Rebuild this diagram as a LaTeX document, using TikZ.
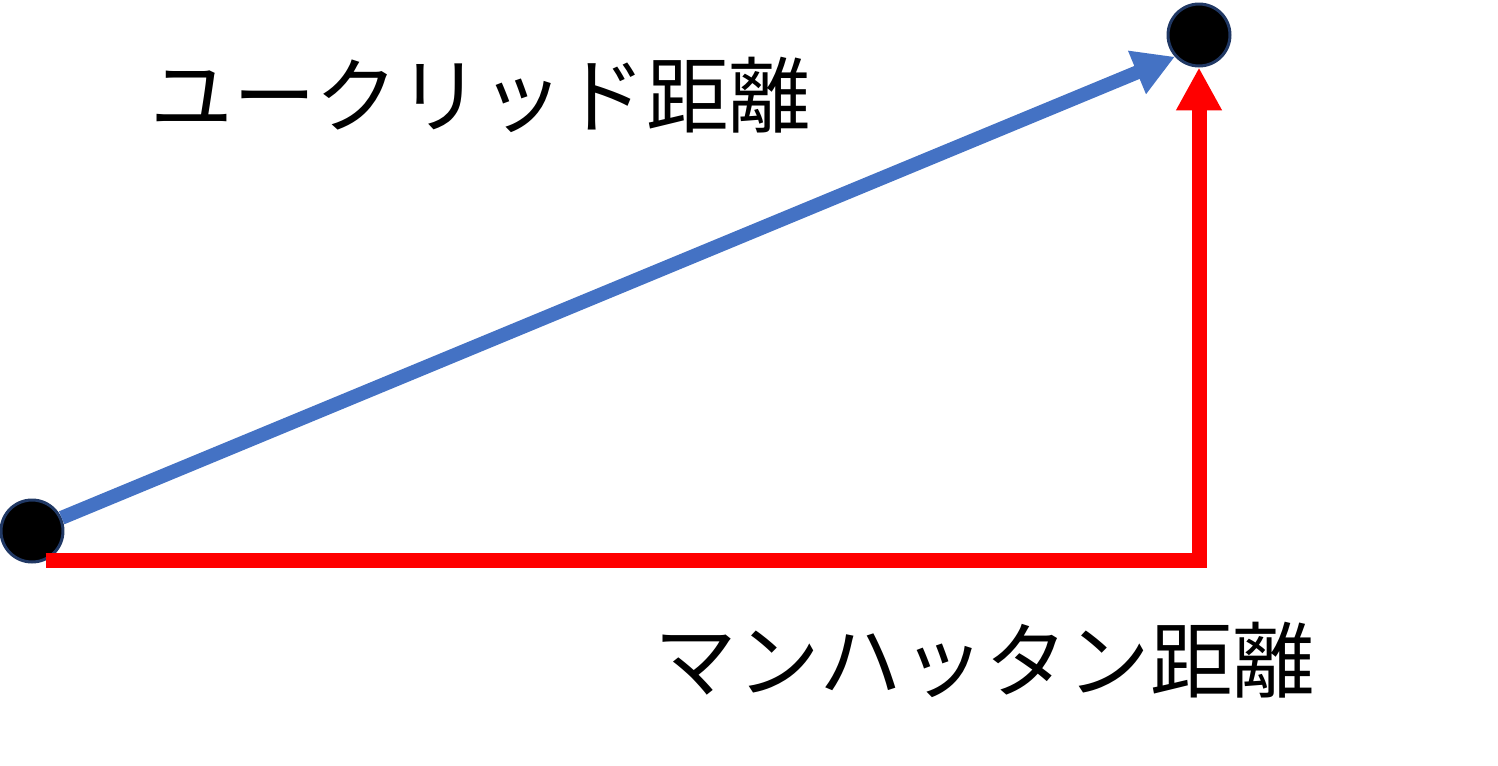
\documentclass[tikz,border=0pt]{standalone}
\usepackage{fontspec}
\newfontfamily\cjk{Noto Sans CJK JP}
\usetikzlibrary{arrows.meta}
\definecolor{dotline}{HTML}{203864}
\definecolor{euclid}{HTML}{4472C4}
\definecolor{manhattan}{HTML}{FF0000}
\tikzset{
  point/.style={circle, fill=black, draw=dotline, line width=0.06cm, minimum size=1.24cm, inner sep=0pt},
  distlabel/.style={font=\cjk\fontsize{47pt}{56pt}\selectfont, inner sep=0pt},
  euclidpath/.style={draw=euclid, line width=0.28cm, -{Triangle[length=0.82cm,width=0.88cm]}},
  manhattanpath/.style={draw=manhattan, line width=0.3cm, -{Triangle[length=0.86cm,width=0.86cm]}}
}
\begin{document}
\begin{tikzpicture}[x=0.02cm, y=-0.02cm]
    % Fix the page size (pixel units, y downward)
    \useasboundingbox (0,0) rectangle (1498,765);

    % Start and end points
    \node[point] (start) at (32,531) {};
    \node[point] (goal) at (1199,35) {};

    % Euclidean distance: straight line
    \draw[euclidpath] (start.24) -- (goal.222);

    % Manhattan distance: along the axes
    \draw[manhattanpath] (start.295) -| (goal.south);

    % Labels
    \node[distlabel] (euclidtext) at (481,95) {ユークリッド距離};
    \node[distlabel] (manhattantext) at (985,660) {マンハッタン距離};

\end{tikzpicture}
\end{document}
